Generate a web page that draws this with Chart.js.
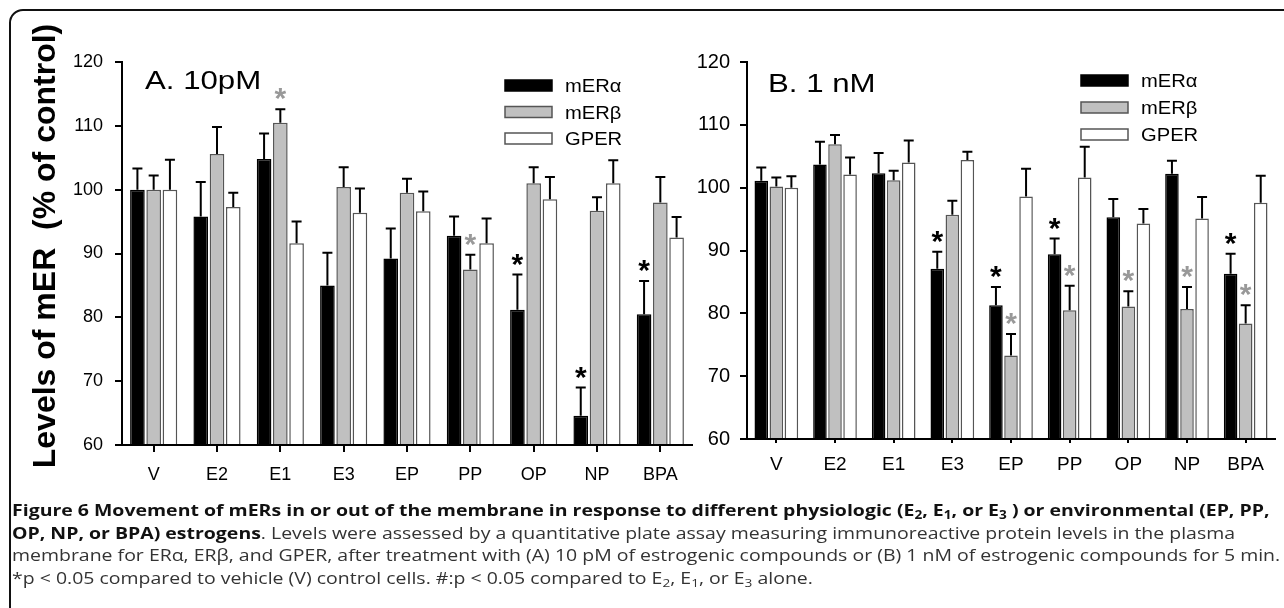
<!DOCTYPE html>
<html>
<head>
<meta charset="utf-8">
<script src="https://cdn.jsdelivr.net/npm/chart.js@4.4.0/dist/chart.umd.min.js"></script>
<style>
  body { margin: 0; width: 1284px; height: 608px; overflow: hidden; background: #fff; position: relative; }
  #frame { position: absolute; left: 9px; top: 9px; width: 1300px; height: 640px; border: 2px solid #111; border-radius: 14px; box-sizing: border-box; }
  #left { position: absolute; left: 0; top: 0; }
  #right { position: absolute; left: 680px; top: 0; }
  #caption { position: absolute; left: 12px; top: 499px; font-family: 'Open Sans', sans-serif; font-size: 16.5px; line-height: 22.5px; color: #333; white-space: nowrap; transform: scaleX(1.18); transform-origin: 0 0; }
  #caption b { color: #111; }
  #caption sub { font-size: 0.7em; vertical-align: baseline; position: relative; top: 0.3em; line-height: 0; }
</style>
</head>
<body>
<div id="frame"></div>
<canvas id="left" width="700" height="500"></canvas>
<canvas id="right" width="604" height="500"></canvas>
<div id="caption">
<b>Figure 6 Movement of mERs in or out of the membrane in response to different physiologic (E<sub>2</sub>, E<sub>1</sub>, or E<sub>3</sub> ) or environmental (EP, PP,</b><br>
<b>OP, NP, or BPA) estrogens</b>. Levels were assessed by a quantitative plate assay measuring immunoreactive protein levels in the plasma<br>
membrane for ERα, ERβ, and GPER, after treatment with (A) 10 pM of estrogenic compounds or (B) 1 nM of estrogenic compounds for 5 min.<br>
*p &lt; 0.05 compared to vehicle (V) control cells. #:p &lt; 0.05 compared to E<sub>2</sub>, E<sub>1</sub>, or E<sub>3</sub> alone.
</div>
<script>
const categories = ['V', 'E2', 'E1', 'E3', 'EP', 'PP', 'OP', 'NP', 'BPA'];
const yTicks = [60, 70, 80, 90, 100, 110, 120];
const seriesNames = ['mERα', 'mERβ', 'GPER'];

// A. 10pM
const alpha10pM = [100, 95.8, 104.8, 85.0, 89.2, 92.8, 81.2, 64.6, 80.5];
const alpha10pMErr = [3.3, 5.4, 4.0, 5.1, 4.7, 3.0, 5.5, 4.4, 5.2];
const alpha10pMStar = [0, 0, 0, 0, 0, 0, 1, 1, 1];
const beta10pM = [100, 105.6, 110.5, 100.4, 99.5, 87.5, 101.0, 96.7, 98.0];
const beta10pMErr = [2.2, 4.2, 2.1, 3.1, 2.2, 2.3, 2.5, 2.1, 4.0];
const beta10pMStar = [0, 0, 1, 0, 0, 1, 0, 0, 0];
const gper10pM = [100, 97.3, 91.6, 96.4, 96.6, 91.6, 98.5, 101.0, 92.5];
const gper10pMErr = [4.7, 2.2, 3.4, 3.8, 3.1, 3.9, 3.5, 3.6, 3.2];

// B. 1 nM
const alpha1nM = [101.1, 103.7, 102.3, 87.1, 81.3, 89.4, 95.3, 102.2, 86.3];
const alpha1nMErr = [2.1, 3.6, 3.2, 2.7, 2.9, 2.5, 2.9, 2.1, 3.2];
const alpha1nMStar = [0, 0, 0, 1, 1, 1, 0, 0, 1];
const beta1nM = [100.2, 106.9, 101.2, 95.7, 73.3, 80.5, 81.1, 80.7, 78.4];
const beta1nMErr = [1.4, 1.5, 1.5, 2.2, 3.4, 3.9, 2.4, 3.5, 2.9];
const beta1nMStar = [0, 0, 0, 0, 1, 1, 1, 1, 1];
const gper1nM = [100, 102.1, 104.0, 104.4, 98.6, 101.6, 94.3, 95.1, 97.6];
const gper1nMErr = [1.8, 2.7, 3.5, 1.3, 4.4, 4.9, 2.3, 3.4, 4.3];

const noStars = categories.map(() => 0);
const FONT = "'Liberation Sans', Arial, sans-serif";
const fills = ['#000000', '#c0c0c0', '#ffffff'];
const edges = ['#000000', '#555555', '#555555'];

function makeDatasets(values, errors, stars) {
  return values.map((data, i) => ({
    label: seriesNames[i],
    data: data,
    errors: errors[i],
    stars: stars[i],
    base: 60,
    backgroundColor: fills[i],
    borderColor: edges[i],
    borderWidth: 1.5,
    categoryPercentage: 0.77,
    barPercentage: 0.9,
  }));
}

// upper error bars and asterisks
const errorBars = {
  id: 'errorBars',
  afterDatasetsDraw(chart) {
    const {ctx} = chart;
    const y = chart.scales.y;
    ctx.save();
    chart.data.datasets.forEach((ds, i) => {
      chart.getDatasetMeta(i).data.forEach((bar, j) => {
        const top = y.getPixelForValue(ds.data[j] + ds.errors[j]);
        ctx.strokeStyle = '#000';
        ctx.lineWidth = 2;
        ctx.beginPath();
        ctx.moveTo(bar.x, bar.y);
        ctx.lineTo(bar.x, top);
        ctx.moveTo(bar.x - 5, top);
        ctx.lineTo(bar.x + 5, top);
        ctx.stroke();
        if (ds.stars[j]) {
          ctx.fillStyle = i === 0 ? '#000' : '#999';
          ctx.font = `bold 30px ${FONT}`;
          ctx.textAlign = 'center';
          ctx.textBaseline = 'alphabetic';
          ctx.fillText('*', bar.x, top - 1);
        }
      });
    });
    ctx.restore();
  },
};

// panel label, legend and y title
const panelDecor = {
  id: 'panelDecor',
  afterDraw(chart, args, opts) {
    const {ctx} = chart;
    ctx.save();
    ctx.fillStyle = '#000';
    ctx.textAlign = 'left';
    ctx.textBaseline = 'alphabetic';
    ctx.save();
    ctx.translate(opts.titleX, opts.titleY);
    ctx.scale(1.2, 1);
    ctx.font = `26px ${FONT}`;
    ctx.fillText(opts.title, 0, 0);
    ctx.restore();

    chart.data.datasets.forEach((ds, i) => {
      const top = opts.legendY + i * opts.legendGap;
      ctx.fillStyle = ds.backgroundColor;
      ctx.fillRect(opts.legendX, top, 47, 11);
      ctx.strokeStyle = ds.borderColor;
      ctx.lineWidth = 1.5;
      ctx.strokeRect(opts.legendX, top, 47, 11);
      ctx.save();
      ctx.translate(opts.legendX + 60, top + 12);
      ctx.scale(1.12, 1);
      ctx.fillStyle = '#000';
      ctx.font = `18px ${FONT}`;
      ctx.fillText(ds.label, 0, 0);
      ctx.restore();
    });

    if (opts.yTitle) {
      ctx.save();
      ctx.translate(55, 246);
      ctx.rotate(-Math.PI / 2);
      ctx.textAlign = 'center';
      ctx.fillStyle = '#000';
      ctx.font = `bold 32px ${FONT}`;
      ctx.fillText(opts.yTitle, 0, 0);
      ctx.restore();
    }
    ctx.restore();
  },
};

function makeConfig(datasets, s) {
  return {
    type: 'bar',
    data: {labels: categories, datasets: datasets},
    plugins: [errorBars, panelDecor],
    options: {
      responsive: false,
      animation: false,
      layout: {padding: {left: 0, right: s.padRight, top: s.padTop, bottom: s.padBottom}},
      plugins: {
        legend: {display: false},
        tooltip: {enabled: false},
        panelDecor: s.decor,
      },
      scales: {
        x: {
          afterFit: scale => { scale.height = 45; },
          border: {color: '#000', width: 2},
          grid: {offset: false, drawOnChartArea: false, color: '#000', lineWidth: 2, tickLength: s.xTick},
          ticks: {color: '#000', font: {family: FONT, size: s.xFont}, padding: s.xPad, maxRotation: 0},
        },
        y: {
          min: yTicks[0],
          max: yTicks[yTicks.length - 1],
          afterFit: scale => { scale.width = s.yWidth; },
          afterBuildTicks: scale => { scale.ticks = yTicks.map(v => ({value: v})); },
          border: {color: '#000', width: 2},
          grid: {drawOnChartArea: false, color: '#000', lineWidth: 2, tickLength: 7},
          ticks: {color: '#000', font: {family: FONT, size: s.yFont}, padding: s.yPad},
        },
      },
    },
  };
}

document.addEventListener('DOMContentLoaded', () => {
  const left = makeDatasets(
    [alpha10pM, beta10pM, gper10pM],
    [alpha10pMErr, beta10pMErr, gper10pMErr],
    [alpha10pMStar, beta10pMStar, noStars]
  );
  new Chart(document.getElementById('left').getContext('2d'), makeConfig(left, {
    padRight: 8, padTop: 62, padBottom: 10, yWidth: 122,
    xTick: 7, xFont: 18, xPad: 12, yFont: 18, yPad: 12,
    decor: {title: 'A. 10pM', titleX: 145, titleY: 89, legendX: 505, legendY: 80, legendGap: 26.5,
            yTitle: 'Levels of mER  (% of control)'},
  }));

  const right = makeDatasets(
    [alpha1nM, beta1nM, gper1nM],
    [alpha1nMErr, beta1nMErr, gper1nMErr],
    [alpha1nMStar, beta1nMStar, noStars]
  );
  new Chart(document.getElementById('right').getContext('2d'), makeConfig(right, {
    padRight: 9, padTop: 62, padBottom: 16, yWidth: 67,
    xTick: 4, xFont: 19, xPad: 10, yFont: 20, yPad: 10,
    decor: {title: 'B. 1 nM', titleX: 88, titleY: 92, legendX: 401, legendY: 75, legendGap: 27, yTitle: ''},
  }));
});
</script>
</body>
</html>
